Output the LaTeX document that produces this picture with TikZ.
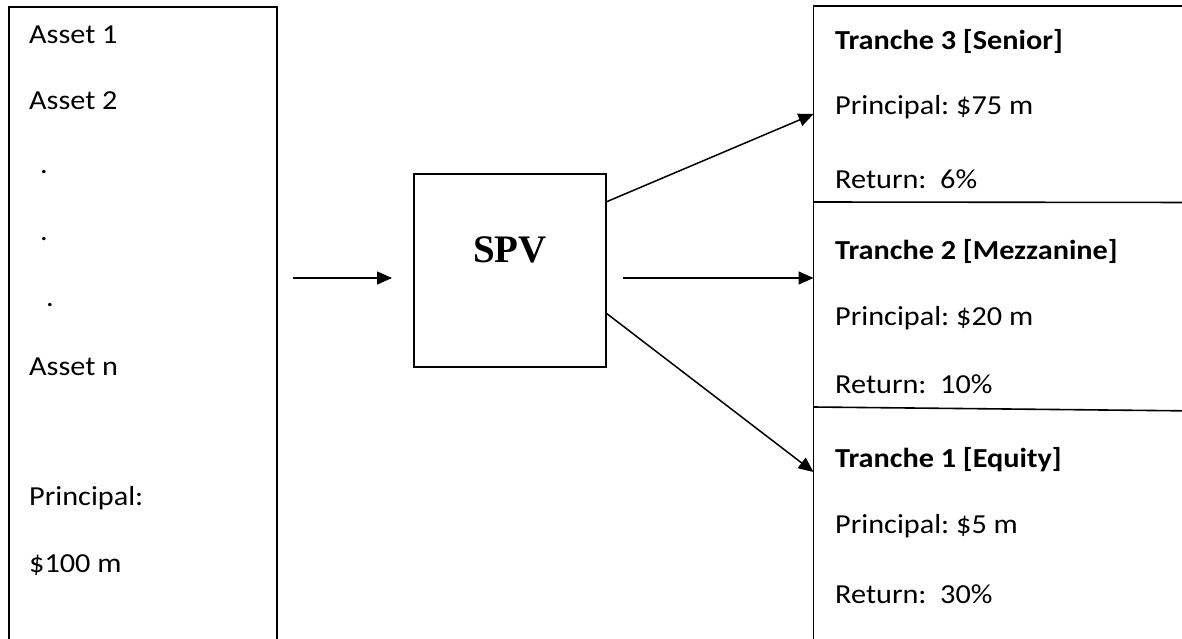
\documentclass[tikz,border=0pt]{standalone}
\usepackage{fontspec}
\setmainfont{Carlito}[FakeStretch=1.1]
\newfontfamily\spvfont{Liberation Serif}
\usetikzlibrary{arrows.meta}
\frenchspacing
\begin{document}
\begin{tikzpicture}[x=1pt,y=-1pt,
  txt/.style={anchor=base west,inner sep=0pt,font=\fontsize{27.5}{33}\selectfont},
  ttl/.style={txt,font=\fontsize{27.5}{33}\selectfont\bfseries},
  frame/.style={line width=1.6pt},
  conn/.style={line width=1.5pt,-{Triangle[length=15pt,width=13pt]}}]
\useasboundingbox (0,0) rectangle (1182,639);
% left box (open at the bottom)
\node[frame,draw,anchor=north west,minimum width=268,minimum height=700,inner sep=0pt] (assets) at (8,6) {};
\node[txt] (a1) at (29,44) {Asset 1};
\node[txt] (a2) at (29,110) {Asset 2};
\node[txt] (d1) at (40,174) {.};
\node[txt] (d2) at (40,240) {.};
\node[txt] (d3) at (46,306) {.};
\node[txt] (an) at (29,375) {Asset n};
\node[txt] (pl) at (29,505) {Principal:};
\node[txt] (pv) at (29,572) {\$100 m};
% SPV
\node[frame,draw,minimum width=192,minimum height=193,inner sep=0pt] (spv) at (510,270.5) {};
\node[anchor=base,inner sep=0pt,font=\spvfont\fontsize{39}{44}\selectfont\bfseries] (spvlabel) at (510,262) {SPV};
% right box (open at right and bottom)
\draw[frame] (1200,6) -- (813.5,6) -- (813.5,700);
\draw[frame] (813.5,202) -- (1200,202.5);
\draw[frame] (813.5,407) -- (1200,411);
\coordinate (t3) at (813.5,114);
\coordinate (t2) at (813.5,278);
\coordinate (t1) at (813.5,472);
\node[ttl] (t3a) at (835,50) {Tranche 3 [Senior]};
\node[txt] (t3b) at (835,115) {Principal: \$75 m};
\node[txt] (t3c) at (835,188) {Return:\ \ 6\%};
\node[ttl] (t2a) at (835,259) {Tranche 2 [Mezzanine]};
\node[txt] (t2b) at (835,325) {Principal: \$20 m};
\node[txt] (t2c) at (835,393) {Return:\ \ 10\%};
\node[ttl] (t1a) at (835,467) {Tranche 1 [Equity]};
\node[txt] (t1b) at (835,533) {Principal: \$5 m};
\node[txt] (t1c) at (835,603) {Return:\ \ 30\%};
% connectors
\coordinate (inA) at (293,278);
\coordinate (inB) at (392,278);
\draw[conn] (inA) -- (inB);
\coordinate (o3) at (606,202);
\coordinate (o2) at (623,278);
\coordinate (o1) at (606,313);
\draw[conn] (o3) -- (t3);
\draw[conn] (o2) -- (t2);
\draw[conn] (o1) -- (t1);
\end{tikzpicture}
\end{document}
